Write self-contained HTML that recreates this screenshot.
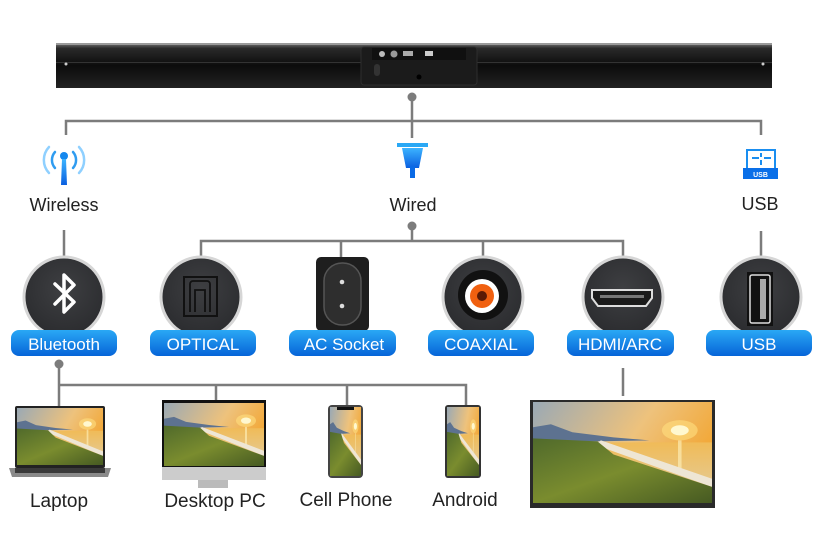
<!DOCTYPE html>
<html><head><meta charset="utf-8"><style>
html,body{margin:0;padding:0;background:#fff;}
svg{display:block;}
text{font-family:"Liberation Sans",sans-serif;}
</style></head><body>
<svg width="824" height="542" viewBox="0 0 824 542" xmlns="http://www.w3.org/2000/svg">
<defs>
<linearGradient id="pill" x1="0" y1="0" x2="0" y2="1"><stop offset="0" stop-color="#2aa8f5"/><stop offset="1" stop-color="#0664d8"/></linearGradient>
<linearGradient id="blueic" x1="0" y1="0" x2="0" y2="1"><stop offset="0" stop-color="#3cb4ff"/><stop offset="1" stop-color="#0a5fe0"/></linearGradient>
<linearGradient id="bar" x1="0" y1="0" x2="0" y2="1"><stop offset="0" stop-color="#777"/><stop offset="0.12" stop-color="#2a2a2a"/><stop offset="0.5" stop-color="#0c0c0c"/><stop offset="1" stop-color="#222"/></linearGradient>
<linearGradient id="sky" x1="0" y1="0" x2="1" y2="0.4"><stop offset="0" stop-color="#9aa9b5"/><stop offset="0.6" stop-color="#eec27c"/><stop offset="1" stop-color="#f2a838"/></linearGradient>
<linearGradient id="sea" x1="0" y1="0" x2="0" y2="1"><stop offset="0" stop-color="#f0bb58"/><stop offset="1" stop-color="#e2cfa5"/></linearGradient>
<linearGradient id="land" x1="0" y1="0" x2="1" y2="1"><stop offset="0" stop-color="#506a2c"/><stop offset="0.5" stop-color="#7a8c2e"/><stop offset="1" stop-color="#465a22"/></linearGradient>
<radialGradient id="circ" cx="0.5" cy="0.4" r="0.6"><stop offset="0" stop-color="#3e3f42"/><stop offset="1" stop-color="#2b2c2f"/></radialGradient>
<symbol id="scene" viewBox="0 0 100 100" preserveAspectRatio="none">
<rect width="100" height="100" fill="url(#sky)"/>
<rect y="40" width="100" height="60" fill="url(#sea)"/>
<circle cx="82" cy="28" r="10" fill="#ffe080" opacity="0.6"/>
<circle cx="82" cy="28" r="5" fill="#fff8d0"/>
<rect x="81" y="38" width="2" height="30" fill="#fff3c0" opacity="0.6"/>
<polygon points="0,25 10,22 22,30 45,35 65,38 0,40" fill="#5d7290"/>
<polygon points="38,38 100,76 100,84 34,42" fill="#eee6d5"/>
<polygon points="0,36 36,39 45,52 100,84 100,100 0,100" fill="url(#land)"/>
</symbol>
</defs>

<!-- soundbar -->
<rect x="56" y="43" width="716" height="45" fill="url(#bar)"/>
<rect x="56" y="43" width="716" height="2" fill="#9a9a9a"/>
<rect x="56" y="62" width="716" height="1" fill="#333"/>
<circle cx="66" cy="64" r="1.5" fill="#ccc"/><circle cx="763" cy="64" r="1.5" fill="#ccc"/>
<rect x="361" y="47" width="116" height="38" rx="3" fill="#1b1b1b" stroke="#2e2e2e"/>
<rect x="372" y="48" width="94" height="12" fill="#101010"/>
<circle cx="382" cy="54" r="3" fill="#bbb"/><circle cx="394" cy="54" r="3.5" fill="#999"/>
<rect x="403" y="51" width="10" height="5" fill="#aaa"/><rect x="425" y="51" width="8" height="5" fill="#ccc"/>
<rect x="374" y="64" width="6" height="12" rx="3" fill="#333"/>
<circle cx="419" cy="77" r="2.5" fill="#000"/>

<!-- connector lines -->
<g stroke="#7c7c7c" stroke-width="2.5" fill="none">
<path d="M412 97 V121 M66 135 V121 H761 V135 M412 121 V138"/>
<path d="M64 230 V256 M761 231 V256 M412 226 V241 M201 257 V241 H623 V257 M341 241 V257 M483 241 V257"/>
<path d="M59 364 V385 M59 409 V385 H466 V409 M216 385 V409 M347 385 V409 M623 368 V396"/>
</g>
<g fill="#7c7c7c"><circle cx="412" cy="97" r="4.5"/><circle cx="412" cy="226" r="4.5"/><circle cx="59" cy="364" r="4.5"/></g>

<!-- wireless icon -->
<g fill="none" stroke-linecap="round">
<path d="M55 152 a12 12 0 0 0 0 16" stroke="#2f9cf0" stroke-width="2.5"/>
<path d="M73 152 a12 12 0 0 1 0 16" stroke="#2f9cf0" stroke-width="2.5"/>
<path d="M49 147 a19 19 0 0 0 0 26" stroke="#8fd0ff" stroke-width="2.5"/>
<path d="M79 147 a19 19 0 0 1 0 26" stroke="#8fd0ff" stroke-width="2.5"/>
</g>
<circle cx="64" cy="156" r="4" fill="#1588ee"/>
<path d="M62 159 h4 l1 26 h-6z" fill="url(#blueic)"/>
<text x="64" y="211" font-size="18" text-anchor="middle" fill="#222">Wireless</text>

<!-- wired icon -->
<rect x="397" y="143" width="31" height="4" fill="#2aa8f5"/>
<path d="M402 148 h21 l-4 20 h-13z" fill="url(#blueic)"/>
<rect x="410" y="166" width="5" height="12" fill="#0a6ae5"/>
<text x="413" y="211" font-size="18" text-anchor="middle" fill="#222">Wired</text>

<!-- usb icon -->
<rect x="747" y="150" width="28" height="19" fill="#fff" stroke="#1a8ef0" stroke-width="2"/>
<path d="M752 158 h7 M764 158 h7 M761 153 v4 M761 160 v5" stroke="#1a8ef0" stroke-width="2"/>
<rect x="743" y="168" width="35" height="11" fill="#0a6fe8"/>
<text x="760.5" y="177" font-size="7" font-weight="bold" text-anchor="middle" fill="#fff">USB</text>
<text x="760" y="210" font-size="18" text-anchor="middle" fill="#222">USB</text>

<!-- port circles -->
<g stroke="#d6d6d6" stroke-width="3" fill="url(#circ)">
<circle cx="64" cy="297" r="40"/>
<circle cx="201" cy="297" r="40"/>
<circle cx="483" cy="297" r="40"/>
<circle cx="623" cy="297" r="40"/>
<circle cx="761" cy="297" r="40"/>
</g>
<!-- bluetooth -->
<path d="M55 284 L74 302 L64 312 V275 L74 285 L55 304" stroke="#fff" stroke-width="3.5" fill="none" stroke-linejoin="round" stroke-linecap="round"/>
<!-- optical -->
<rect x="184" y="277" width="33" height="39" fill="none" stroke="#111" stroke-width="2"/>
<path d="M190 312 V284 a3 3 0 0 1 3 -3 h14 a3 3 0 0 1 3 3 V312 M195 312 V290 h10 v22" fill="none" stroke="#111" stroke-width="1.8"/>
<!-- AC socket -->
<rect x="316" y="257" width="53" height="74" rx="5" fill="#1e1e1e"/>
<rect x="324" y="263" width="37" height="62" rx="18" fill="#2e2e2e" stroke="#555" stroke-width="1.5"/>
<circle cx="342" cy="282" r="2.3" fill="#ddd"/><circle cx="342" cy="306" r="2.3" fill="#ddd"/>
<!-- coaxial -->
<circle cx="483" cy="295" r="25" fill="#111"/>
<circle cx="482" cy="296" r="17" fill="#fff"/>
<circle cx="482" cy="296" r="12" fill="#f06010"/>
<circle cx="482" cy="296" r="5" fill="#5a1a05"/>
<!-- hdmi -->
<path d="M592 290 h60 v8 l-6 8 h-48 l-6 -8z" fill="#1a1a1a" stroke="#ddd" stroke-width="2"/>
<rect x="600" y="295" width="44" height="3" fill="#777"/>
<!-- usb port -->
<rect x="747" y="272" width="26" height="54" fill="#111"/>
<rect x="750" y="275" width="20" height="48" rx="2" fill="none" stroke="#ddd" stroke-width="1.5"/>
<rect x="760" y="279" width="6" height="40" fill="#aaa"/>

<!-- pills -->
<g fill="url(#pill)">
<rect x="11" y="330" width="106" height="26" rx="8"/>
<rect x="150" y="330" width="106" height="26" rx="8"/>
<rect x="289" y="330" width="107" height="26" rx="8"/>
<rect x="428" y="330" width="106" height="26" rx="8"/>
<rect x="567" y="330" width="107" height="26" rx="8"/>
<rect x="706" y="330" width="106" height="26" rx="8"/>
</g>
<g fill="#fff" font-size="17" text-anchor="middle">
<text x="64" y="350">Bluetooth</text>
<text x="203" y="350">OPTICAL</text>
<text x="344" y="350">AC Socket</text>
<text x="481" y="350">COAXIAL</text>
<text x="620" y="350">HDMI/ARC</text>
<text x="759" y="350">USB</text>
</g>

<!-- laptop -->
<rect x="15" y="406" width="90" height="62" rx="2" fill="#222"/>
<use href="#scene" x="17" y="408" width="86" height="57"/>
<path d="M9 468 h102 l-3 9 h-96z" fill="#8a8a8a"/>
<rect x="15" y="468" width="90" height="5" fill="#3a3a3a"/>
<!-- desktop -->
<rect x="162" y="400" width="104" height="75" fill="#111"/>
<use href="#scene" x="164" y="403" width="100" height="63"/>
<rect x="162" y="467" width="104" height="13" fill="#ccc"/>
<rect x="198" y="480" width="30" height="8" fill="#bbb"/>
<!-- phones -->
<rect x="328" y="405" width="35" height="73" rx="4" fill="#444"/>
<use href="#scene" x="330" y="407" width="31" height="69"/>
<rect x="337" y="407" width="17" height="3" fill="#111"/>
<rect x="445" y="405" width="36" height="73" rx="3" fill="#333"/>
<use href="#scene" x="447" y="407" width="32" height="69"/>
<!-- TV -->
<rect x="530" y="400" width="185" height="108" fill="#2a2a2a"/>
<use href="#scene" x="533" y="402" width="179" height="101"/>

<g font-size="19" text-anchor="middle" fill="#222">
<text x="59" y="507">Laptop</text>
<text x="215" y="507">Desktop PC</text>
<text x="346" y="506">Cell Phone</text>
<text x="465" y="506">Android</text>
</g>
</svg>
</body></html>
